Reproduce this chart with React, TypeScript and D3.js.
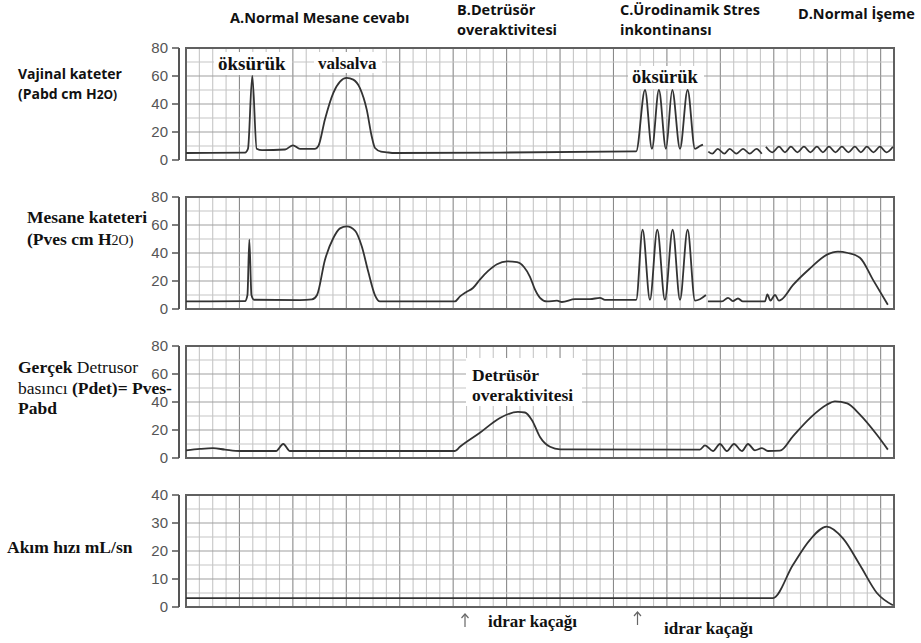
import React from 'react';
import * as d3 from 'd3';

type Pt = [number, number];

const W = 921;
const H = 643;
const X_CELLS = 53;
const PANEL_H = 112;

const ticks80 = [0, 20, 40, 60, 80];
const ticks40 = [0, 10, 20, 30, 40];

// Panel 1: Vajinal kateter (Pabd)
const pabdA: Pt[] = [
  [0, 5], [4.42, 5.2], [4.64, 8], [4.96, 60], [5.29, 8], [5.69, 7], [7.41, 7.5], [8.01, 10.5], [8.53, 8],
  [9.66, 8], [9.91, 10], [10.4, 29], [11.03, 48], [11.53, 56], [12.03, 58.6], [12.52, 57.4], [13.02, 51.4],
  [13.53, 36], [13.9, 17], [14.15, 8.6], [14.6, 6], [15.02, 5.5], [15.64, 5], [23.5, 5.3], [33.7, 6.2],
  [34.36, 50], [34.88, 8], [35.4, 50], [35.93, 8], [36.4, 50], [36.98, 8], [37.55, 50], [38.1, 8],
  [38.47, 10], [38.7, 11],
];
const pabdB: Pt[] = [
  [39.1, 6], [39.4, 4.5], [39.8, 8], [40.3, 4.5], [40.7, 8], [41.2, 4.5], [41.7, 8], [42.2, 4.5], [42.7, 8], [43.1, 4.5],
];
const pabdC: Pt[] = [
  [43.41, 9.5], [43.9, 5.5], [44.39, 9.5], [44.84, 5.5], [45.28, 9.5], [45.77, 5.5], [46.26, 9.5], [46.74, 5.5],
  [47.23, 9.5], [47.68, 5.5], [48.13, 9.5], [48.62, 5.5], [49.1, 9.5], [49.59, 5.5], [50.07, 9.5], [50.52, 5.5],
  [50.97, 9.5], [51.46, 5.5], [51.95, 9.5], [52.43, 5.5], [52.92, 9.5],
];

// Panel 2: Mesane kateteri (Pves)
const pvesA: Pt[] = [
  [0, 5.4], [4.42, 5.6], [4.6, 10], [4.74, 49.5], [4.9, 10], [5.09, 6.6], [8.53, 6.3], [9.43, 6.8], [9.81, 10],
  [10.4, 35], [11.03, 50.7], [11.53, 57.6], [12.03, 59], [12.65, 56], [13.15, 45], [13.65, 26.4], [14.15, 9.8],
  [14.52, 5.4], [20.13, 5.4], [20.51, 9], [20.96, 12], [21.48, 15], [22.0, 21], [22.6, 27], [23.28, 32],
  [24.03, 34], [24.78, 33.5], [25.3, 30], [25.75, 23], [26.12, 14], [26.5, 8], [27.02, 5.4], [27.77, 6],
  [28.14, 5], [29.12, 7], [30.24, 7], [30.99, 8], [31.36, 6.5], [33.7, 6.5], [34.18, 56.6], [34.73, 6.6],
  [35.28, 56.6], [35.85, 6.6], [36.43, 56.6], [36.98, 6.6], [37.55, 56.6], [38.1, 6], [38.47, 7], [38.92, 10],
];
const pvesB: Pt[] = [
  [39.07, 5.4], [40.12, 5.4], [40.57, 8], [40.94, 5.6], [41.32, 7.5], [41.69, 5.4], [43.34, 5.4], [43.52, 10.5],
  [43.75, 6], [44.09, 10], [44.39, 6], [44.61, 7], [45.43, 17], [46.71, 29], [47.98, 38.8], [48.8, 41],
  [49.55, 40], [50.45, 36.6], [51.42, 21], [52.54, 3],
];

// Panel 3: Pdet
const pdetA: Pt[] = [
  [0, 5.5], [1.05, 6.5], [2.02, 7], [2.92, 6], [4.04, 5], [6.74, 5], [7.28, 10], [7.78, 5], [20.13, 5],
  [20.51, 8], [22.0, 18], [23.5, 28.6], [24.85, 33], [25.37, 32.5], [25.9, 27], [26.5, 15], [27.25, 8],
  [28.0, 6.2], [38.47, 6], [38.85, 9], [39.45, 5], [39.97, 10], [40.49, 5], [41.02, 10], [41.62, 5],
  [42.07, 10], [42.59, 5.5], [43.11, 7], [43.56, 5], [44.46, 5.2], [45.43, 15.5], [46.71, 28.5], [47.96, 38],
  [48.58, 40.5], [49.5, 39], [50.45, 31], [51.72, 16.6], [52.54, 6],
];

// Panel 4: Akım hızı
const flowA: Pt[] = [
  [0, 3.2], [43.94, 3.2], [45.43, 15], [46.71, 24], [47.96, 28.7], [49.18, 24.5], [50.45, 15], [51.72, 5], [52.92, 0.6],
];

// Leakage markers (time in grid cells)
const leakTimes = [20.9, 33.8];

const panelTops = [48, 197, 346, 495];
const panelMax = [80, 80, 80, 40];
const panelStep = [10, 10, 10, 5];
const panelTicks = [ticks80, ticks80, ticks80, ticks40];
const panelSegs: Pt[][][] = [[pabdA, pabdB, pabdC], [pvesA, pvesB], [pdetA], [flowA]];

const SANS = '"Open Sans", Lato, sans-serif';
const SERIF = '"Liberation Serif", "Times New Roman", serif';

export default function App() {
  const x = d3.scaleLinear().domain([0, X_CELLS]).range([186, 894]);
  const vCells = d3.range(1, X_CELLS);
  const arrowTops = [614, 612];

  return (
    <svg width={W} height={H} style={{ position: 'absolute', left: 0, top: 0, background: '#fff' }}>
      <rect x={0} y={0} width={W} height={H} fill="#fff" />
      {panelTops.map((top, i) => {
        const max = panelMax[i];
        const y = d3.scaleLinear().domain([0, max]).range([top + PANEL_H, top]);
        const line = d3.line<Pt>().x(d => x(d[0])).y(d => y(d[1])).curve(d3.curveMonotoneX);
        const hVals = d3.range(panelStep[i], max, panelStep[i]);
        return (
          <g key={i}>
            {vCells.map(c => (
              <line key={'v' + c} x1={x(c)} x2={x(c)} y1={top} y2={top + PANEL_H}
                stroke={c % 4 === 0 ? '#8a8a8a' : '#c6c6c6'} strokeWidth={1.1} />
            ))}
            {hVals.map(v => (
              <line key={'h' + v} x1={x(0)} x2={x(X_CELLS)} y1={y(v)} y2={y(v)}
                stroke={v % (max / 4) === 0 ? '#a0a0a0' : '#c6c6c6'} strokeWidth={1.1} />
            ))}
            <rect x={x(0)} y={top} width={x(X_CELLS) - x(0)} height={PANEL_H} fill="none" stroke="#606060" strokeWidth={2} />
            <line x1={179} x2={179} y1={top} y2={top + PANEL_H} stroke="#555" strokeWidth={2} />
            {panelTicks[i].map(t => (
              <g key={'t' + t}>
                <line x1={172} x2={179} y1={y(t)} y2={y(t)} stroke="#555" strokeWidth={1.5} />
                <text x={168} y={y(t)} dy="0.36em" textAnchor="end" fontFamily='"Liberation Sans", Arial, sans-serif'
                  fontSize={15} fill="#555">{t}</text>
              </g>
            ))}
            {panelSegs[i].map((seg, k) => (
              <path key={'s' + k} d={line(seg) || ''} fill="none" stroke="#333" strokeWidth={1.8} strokeLinejoin="round" />
            ))}
          </g>
        );
      })}

      {/* Column headers */}
      <g fontFamily={SANS} fontWeight="bold" fontSize={14.5} fill="#111">
        <text x={230} y={23}>A.Normal Mesane cevabı</text>
        <text x={457} y={15}>B.Detrüsör</text>
        <text x={457} y={35}>overaktivitesi</text>
        <text x={620} y={15}>C.Ürodinamik Stres</text>
        <text x={620} y={35}>inkontinansı</text>
        <text x={798} y={19}>D.Normal İşeme</text>
      </g>

      {/* Left labels */}
      <g fontFamily={SANS} fontWeight="bold" fontSize={14} fill="#111">
        <text x={18} y={79}>Vajinal kateter</text>
        <text x={18} y={99}>(Pabd cm H<tspan fontSize={12}>2O)</tspan></text>
      </g>
      <g fontFamily={SERIF} fontWeight="bold" fontSize={17.5} fill="#111">
        <text x={27} y={223}>Mesane kateteri</text>
        <text x={27} y={245}>(Pves cm H<tspan fontSize={14} fontWeight="normal">2O)</tspan></text>
        <text x={18} y={373}>Gerçek <tspan fontWeight="normal">Detrusor</tspan></text>
        <text x={18} y={394}><tspan fontWeight="normal">basıncı</tspan> (Pdet)= Pves-</text>
        <text x={18} y={414}>Pabd</text>
        <text x={7} y={553}>Akım hızı mL/sn</text>
      </g>

      {/* In-plot annotations */}
      <g fontFamily={SERIF} fontWeight="bold" fill="#111">
        <rect x={214} y={52} width={78} height={23} fill="#fff" />
        <text x={218} y={70} fontSize={19}>öksürük</text>
        <rect x={314} y={52} width={68} height={21} fill="#fff" />
        <text x={318} y={69} fontSize={17}>valsalva</text>
        <rect x={628} y={66} width={76} height={23} fill="#fff" />
        <text x={632} y={83} fontSize={18.5}>öksürük</text>
        <rect x={466} y={358} width={116} height={48} fill="#fff" />
        <text x={472} y={381} fontSize={17.5}>Detrüsör</text>
        <text x={472} y={401} fontSize={17.5}>overaktivitesi</text>
      </g>

      {/* Leakage arrows and notes */}
      {leakTimes.map((t, i) => {
        const ax = Math.round(x(t) * 2) / 2;
        const top = arrowTops[i];
        return (
          <g key={'a' + i} stroke="#666" strokeWidth={1.2} fill="none">
            <line x1={ax} x2={ax} y1={top} y2={top + 13} />
            <path d={`M${ax - 3.5},${top + 4} L${ax},${top} L${ax + 3.5},${top + 4}`} />
          </g>
        );
      })}
      <g fontFamily={SERIF} fill="#111" fontWeight="bold" fontSize={17}>
        <text x={488} y={627}>idrar kaçağı</text>
        <text x={664} y={634}>idrar kaçağı</text>
      </g>
    </svg>
  );
}
